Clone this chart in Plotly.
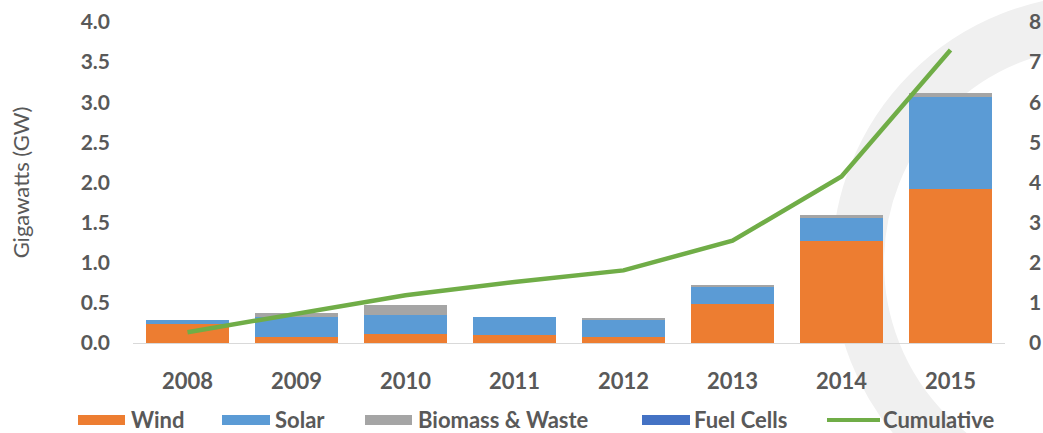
import plotly.graph_objects as go

years = ["2008", "2009", "2010", "2011", "2012", "2013", "2014", "2015"]
wind = [0.24, 0.08, 0.11, 0.10, 0.08, 0.49, 1.27, 1.92]
solar = [0.05, 0.25, 0.245, 0.23, 0.21, 0.22, 0.30, 1.14]
biomass = [0.00, 0.05, 0.12, 0.00, 0.01, 0.01, 0.02, 0.05]
fuel_cells = [0.0, 0.0, 0.0, 0.0, 0.0, 0.0, 0.0, 0.0]
cumulative = [0.27, 0.73, 1.19, 1.52, 1.81, 2.55, 4.15, 7.30]

left_ticks = [0, 0.5, 1, 1.5, 2, 2.5, 3, 3.5, 4]
left_ticktext = ["0.0", "0.5", "1.0", "1.5", "2.0", "2.5", "3.0", "3.5", "4.0"]
right_ticks = [0, 1, 2, 3, 4, 5, 6, 7, 8]
right_ticktext = ["0", "1", "2", "3", "4", "5", "6", "7", "8"]

series_names = ["Wind", "Solar", "Biomass & Waste", "Fuel Cells"]
series_values = [wind, solar, biomass, fuel_cells]
series_colors = ["#ED7D31", "#5B9BD5", "#A5A5A5", "#4472C4"]
line_name = "Cumulative"
line_color = "#70AD47"

FONT = "Lato"
TXT = "#595959"

W, H = 1043, 433
L, R, T, B = 133, 38, 22, 90
pw, ph = W - L - R, H - T - B


def px(x):
    return (x - L) / pw


def py(y):
    return (H - B - y) / ph


fig = go.Figure()
for name, vals, col in zip(series_names, series_values, series_colors):
    fig.add_trace(go.Bar(x=years, y=vals, name=name,
                         marker=dict(color=col, line=dict(width=0)),
                         showlegend=False, yaxis="y"))

fig.add_trace(go.Scatter(x=years, y=cumulative, name=line_name, mode="lines",
                         line=dict(color=line_color, width=4.5), yaxis="y2",
                         showlegend=False))

# decorative background watermark ring
shapes = [
    dict(type="circle", xref="paper", yref="paper", layer="below",
         x0=px(858), x1=px(1342), y0=py(505), y1=py(21),
         line=dict(color="#F0F0F0", width=52)),
]

# custom legend (wide swatches as in the reference)
leg_swatch_x = [(78, 125), (222, 270), (365, 412), (642, 690), (827, 880)]
leg_text_x = [130, 274, 417, 693, 882]
leg_y = 420
annotations = []
for i, (name, col) in enumerate(zip(series_names + [line_name], series_colors + [line_color])):
    x0, x1 = leg_swatch_x[i]
    if i < len(series_names):
        shapes.append(dict(type="rect", xref="paper", yref="paper",
                           x0=px(x0), x1=px(x1), y0=py(leg_y + 5), y1=py(leg_y - 5),
                           fillcolor=col, line=dict(width=0)))
    else:
        shapes.append(dict(type="line", xref="paper", yref="paper",
                           x0=px(x0), x1=px(x1), y0=py(leg_y), y1=py(leg_y),
                           line=dict(color=col, width=4)))
    annotations.append(dict(text=name, xref="paper", yref="paper",
                            x=px(leg_text_x[i]), y=py(leg_y - 1), xanchor="left", yanchor="middle",
                            showarrow=False, borderpad=0,
                            font=dict(size=22, family=FONT, color=TXT, weight="bold")))

fig.update_layout(
    width=W, height=H,
    margin=dict(l=L, r=R, t=T, b=B, autoexpand=False),
    barmode="stack", bargap=0.23,
    paper_bgcolor="white", plot_bgcolor="rgba(0,0,0,0)",
    font=dict(family=FONT, color=TXT),
    shapes=shapes, annotations=annotations,
    showlegend=False,
    xaxis=dict(showgrid=False, showline=True, linecolor="#D9D9D9", linewidth=1,
               ticks="", ticklabelstandoff=19,
               tickfont=dict(size=22, family=FONT, color=TXT, weight="bold")),
    yaxis=dict(range=[0, 4], tickvals=left_ticks, ticktext=left_ticktext,
               showgrid=False, zeroline=False, ticks="", ticklabelstandoff=22,
               tickfont=dict(size=21, family=FONT, color=TXT, weight="bold"),
               title=dict(text="Gigawatts (GW)", font=dict(size=22, family=FONT, color=TXT),
                          standoff=44)),
    yaxis2=dict(range=[0, 8], tickvals=right_ticks, ticktext=right_ticktext,
                overlaying="y", side="right", showgrid=False, zeroline=False,
                ticks="", ticklabelstandoff=23,
                tickfont=dict(size=21, family=FONT, color=TXT, weight="bold")),
)

fig.write_html("out.html", config={"displayModeBar": False},
               post_script="document.body.style.margin='0';document.body.style.overflow='hidden';")
